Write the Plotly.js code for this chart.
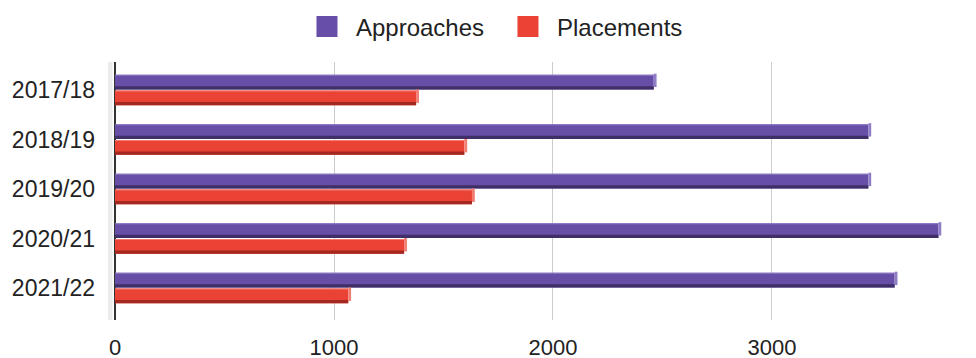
<!DOCTYPE html>
<html>
<head>
<meta charset="utf-8">
<script src="https://cdn.plot.ly/plotly-3.0.1.min.js"></script>
<style>html,body{margin:0;padding:0;background:#fff;}#chart{width:976px;height:358px;}</style>
</head>
<body>
<div id="chart"></div>
<script>
var categories = ["2017/18", "2018/19", "2019/20", "2020/21", "2021/22"];
var approaches = [2460, 3440, 3440, 3760, 3560];
var placements = [1375, 1595, 1630, 1320, 1065];
var seriesNames = ["Approaches", "Placements"];
var xTicks = [0, 1000, 2000, 3000];

var purple = "#674ea7", purpleDark = "#3f2f66", purpleLight = "#8f7dc6";
var red = "#ea4335", redDark = "#a3281f", redLight = "#f27d73";
var capDepth = 13;

function barTrace(vals, color, offset, width, base) {
  var t = {
    type: "bar", orientation: "h", x: vals, y: categories,
    offset: offset, width: width,
    marker: {color: color, line: {width: 0}},
    showlegend: false, hoverinfo: "skip"
  };
  if (base) { t.base = base; }
  return t;
}
var capLen = approaches.map(function () { return capDepth; });

var traces = [
  barTrace(approaches, purple, -0.31, 0.30),
  barTrace(approaches, purpleLight, -0.31, 0.02),
  barTrace(approaches, purpleDark, -0.077, 0.067),
  barTrace(capLen, purpleLight, -0.33, 0.27, approaches),
  barTrace(placements, red, 0.01, 0.30),
  barTrace(placements, redLight, 0.01, 0.02),
  barTrace(placements, redDark, 0.243, 0.067),
  barTrace(capLen, redLight, -0.01, 0.27, placements),
  {type: "scatter", mode: "markers", x: [null], y: [null], name: seriesNames[0],
   marker: {symbol: "square", size: 16, color: purple, line: {color: purple, width: 5}}},
  {type: "scatter", mode: "markers", x: [null], y: [null], name: seriesNames[1],
   marker: {symbol: "square", size: 16, color: red, line: {color: red, width: 5}}}
];

var layout = {
  width: 976, height: 358,
  margin: {l: 115, r: 31, t: 62, b: 38},
  paper_bgcolor: "#fff", plot_bgcolor: "#fff",
  barmode: "overlay",
  font: {family: "Liberation Sans, Arial, sans-serif", size: 23, color: "#222"},
  xaxis: {
    range: [0, 3790], tickvals: xTicks, ticktext: xTicks.map(String),
    showgrid: true, gridcolor: "#cccccc", gridwidth: 1,
    zeroline: true, zerolinecolor: "#333333", zerolinewidth: 1.5,
    ticks: "", ticklabelstandoff: 12, showline: false, fixedrange: true,
    tickfont: {size: 22}, automargin: false
  },
  yaxis: {
    type: "category", categoryorder: "array", categoryarray: categories,
    range: [4.646, -0.566], showgrid: false, zeroline: false,
    ticks: "", ticklabelstandoff: 19, showline: false, fixedrange: true,
    automargin: false
  },
  shapes: [{type: "rect", xref: "paper", yref: "paper", x0: -0.0085, x1: -0.003, y0: 0, y1: 1,
            fillcolor: "#ececec", line: {width: 0}, layer: "below"}],
  legend: {orientation: "h", xref: "container", yref: "container",
           x: 0.3053, xanchor: "left", y: 0.9246, yanchor: "middle",
           font: {size: 24, color: "#222"}, itemwidth: 48, entrywidth: 138},
  showlegend: true
};

Plotly.newPlot("chart", traces, layout, {displayModeBar: false, staticPlot: true});
</script>
</body>
</html>
